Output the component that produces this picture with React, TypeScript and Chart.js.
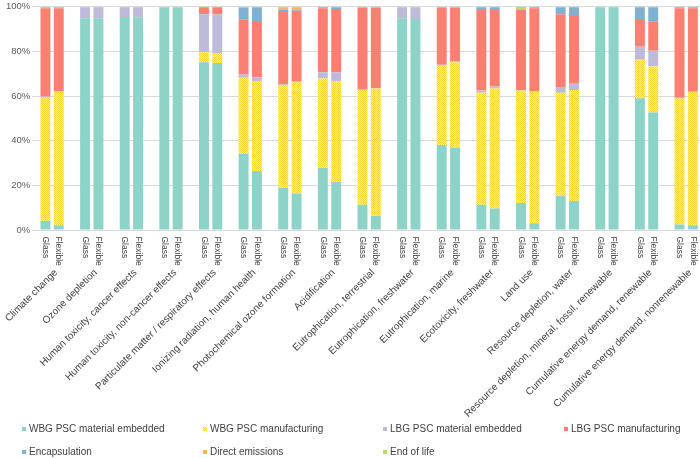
import { useEffect, useRef } from "react";
import { Chart, registerables } from "chart.js";

Chart.register(...registerables);

const categories = [
  "Climate change",
  "Ozone depletion",
  "Human toxicity, cancer effects",
  "Human toxicity, non-cancer effects",
  "Particulate matter / respiratory effects",
  "Ionizing radiation, human health",
  "Photochemical ozone formation",
  "Acidification",
  "Eutrophication, terrestrial",
  "Eutrophication, freshwater",
  "Eutrophication, marine",
  "Ecotoxicity, freshwater",
  "Land use",
  "Resource depletion, water",
  "Resource depletion, mineral, fossil, renewable",
  "Cumulative energy demand, renewable",
  "Cumulative energy demand, nonrenewable",
];

const variants = ["Glass", "Flexible"];

const seriesNames = [
  "WBG PSC material embedded",
  "WBG PSC manufacturing",
  "LBG PSC material embedded",
  "LBG PSC manufacturing",
  "Encapsulation",
  "Direct emissions",
  "End of life",
];

const yTicks = [0, 20, 40, 60, 80, 100];

// Glass values (%)
const wbgMaterialGlass = [4.1, 94.8, 95.4, 99.6, 75.1, 34.0, 18.8, 27.9, 11.3, 94.8, 38.1, 11.3, 12.1, 15.3, 99.8, 59.0, 2.5];
const wbgManufGlass = [55.5, 0, 0, 0, 4.5, 34.2, 46.1, 40.0, 51.4, 0, 35.5, 50.2, 50.4, 46.2, 0, 17.3, 56.5];
const lbgMaterialGlass = [0.2, 5.0, 4.4, 0.3, 17.0, 1.4, 0.3, 2.8, 0.2, 5.0, 0.4, 1.0, 0.2, 2.5, 0, 5.8, 0.2];
const lbgManufGlass = [39.5, 0, 0, 0, 3.2, 24.8, 32.9, 28.6, 36.7, 0, 25.6, 36.0, 36.0, 32.6, 0, 12.4, 40.1];
const encapsulationGlass = [0.4, 0.1, 0.1, 0, 0, 5.3, 0.4, 0.5, 0.2, 0, 0.2, 1.3, 0.2, 3.2, 0, 5.3, 0.5];
const directGlass = [0, 0, 0, 0, 0, 0, 1.3, 0, 0, 0, 0, 0, 0, 0, 0, 0, 0];
const endOfLifeGlass = [0.3, 0.1, 0.1, 0.1, 0.2, 0.3, 0.2, 0.2, 0.2, 0.2, 0.2, 0.2, 1.1, 0.2, 0.2, 0.2, 0.2];

// Flexible values (%)
const wbgMaterialFlexible = [2.1, 94.8, 95.3, 99.6, 74.8, 26.4, 16.3, 21.5, 6.4, 94.5, 37.0, 9.6, 3.0, 13.0, 99.8, 52.6, 2.1];
const wbgManufFlexible = [59.8, 0, 0, 0, 4.5, 40.3, 49.9, 45.2, 57.0, 0, 38.1, 53.8, 58.9, 49.7, 0, 20.6, 59.7];
const lbgMaterialFlexible = [0.2, 5.0, 4.5, 0.3, 17.3, 1.7, 0.4, 4.0, 0.2, 5.3, 0.4, 0.9, 0.2, 2.8, 0, 7.1, 0.2];
const lbgManufFlexible = [37.2, 0, 0, 0, 3.2, 25.2, 31.6, 28.3, 36.0, 0, 24.1, 34.2, 37.2, 30.8, 0, 13.0, 37.3];
const encapsulationFlexible = [0.4, 0.1, 0.1, 0, 0, 6.2, 0.4, 0.8, 0.2, 0, 0.2, 1.3, 0.5, 3.5, 0, 6.5, 0.5];
const directFlexible = [0, 0, 0, 0, 0, 0, 1.2, 0, 0, 0, 0, 0, 0, 0, 0, 0, 0];
const endOfLifeFlexible = [0.3, 0.1, 0.1, 0.1, 0.2, 0.2, 0.2, 0.2, 0.2, 0.2, 0.2, 0.2, 0.2, 0.2, 0.2, 0.2, 0.2];

const glassSeries = [wbgMaterialGlass, wbgManufGlass, lbgMaterialGlass, lbgManufGlass, encapsulationGlass, directGlass, endOfLifeGlass];
const flexibleSeries = [wbgMaterialFlexible, wbgManufFlexible, lbgMaterialFlexible, lbgManufFlexible, encapsulationFlexible, directFlexible, endOfLifeFlexible];

const seriesColors = ["#8DD3C7", "PATTERN", "#BEBADA", "#FB8072", "#80B1D3", "#FDB462", "#B3DE69"];

function makeYellowPattern(ctx: CanvasRenderingContext2D): CanvasPattern | string {
  const c = document.createElement("canvas");
  c.width = 4;
  c.height = 4;
  const p = c.getContext("2d");
  if (!p) return "#FFE066";
  p.fillStyle = "#FFF1A3";
  p.fillRect(0, 0, 4, 4);
  p.fillStyle = "#FFD22E";
  for (let y = 0; y < 4; y++) {
    for (let x = 0; x < 4; x++) {
      if ((x + y) % 2 === 0) p.fillRect(x, y, 1, 1);
    }
  }
  return ctx.createPattern(c, "repeat") || "#FFE066";
}

export default function App() {
  const ref = useRef<HTMLCanvasElement>(null);

  useEffect(() => {
    document.body.style.margin = "0";
    document.body.style.overflow = "hidden";
    document.documentElement.style.overflow = "hidden";
    const canvas = ref.current;
    if (!canvas) return;
    const ctx = canvas.getContext("2d");
    if (!ctx) return;
    const pattern = makeYellowPattern(ctx);
    const fills = seriesColors.map((c) => (c === "PATTERN" ? pattern : c));

    const datasets: any[] = [];
    seriesNames.forEach((name, s) => {
      variants.forEach((v) => {
        datasets.push({
          label: name + " (" + v + ")",
          data: v === "Glass" ? glassSeries[s] : flexibleSeries[s],
          backgroundColor: fills[s],
          borderWidth: 0,
          stack: v,
          categoryPercentage: 0.673,
          barPercentage: 0.746,
        });
      });
    });

    const font = '"Liberation Sans", Arial, sans-serif';

    const labelPlugin = {
      id: "customLabels",
      afterDraw(chart: any) {
        const c = chart.ctx as CanvasRenderingContext2D;
        const area = chart.chartArea;
        const metaG = chart.getDatasetMeta(0);
        const metaF = chart.getDatasetMeta(1);
        c.save();
        c.fillStyle = "#404040";
        categories.forEach((cat, i) => {
          const gx = metaG.data[i].x;
          const fx = metaF.data[i].x;
          c.font = "8.5px " + font;
          [gx, fx].forEach((x, k) => {
            c.save();
            c.translate(x, area.bottom + 6.5);
            c.rotate(Math.PI / 2);
            c.textAlign = "left";
            c.textBaseline = "middle";
            c.fillText(variants[k], 0, 0);
            c.restore();
          });
          const cx = (gx + fx) / 2;
          c.font = "10px " + font;
          c.save();
          c.translate(cx + 4, area.bottom + 41);
          c.rotate(-Math.PI / 4);
          c.textAlign = "right";
          c.textBaseline = "middle";
          c.fillText(cat, 0, 0);
          c.restore();
        });
        // legend
        const colX = [29, 210, 390, 571];
        const rowY = [429, 452];
        c.font = "10px " + font;
        seriesNames.forEach((name, s) => {
          const col = s % 4;
          const row = Math.floor(s / 4);
          const x = colX[col];
          const y = rowY[row];
          c.fillStyle = fills[s] as any;
          c.fillRect(x - 7, y - 2, 4, 4);
          c.fillStyle = "#404040";
          c.textAlign = "left";
          c.textBaseline = "middle";
          c.fillText(name, x, y);
        });
        c.restore();
      },
    };

    const chart = new Chart(canvas, {
      type: "bar",
      data: { labels: categories, datasets },
      options: {
        responsive: false,
        animation: false,
        devicePixelRatio: 1,
        layout: { padding: { left: 4, right: 0, top: 0, bottom: 228 } },
        plugins: { legend: { display: false }, tooltip: { enabled: false } },
        scales: {
          x: { stacked: true, display: false },
          y: {
            stacked: true,
            min: 0,
            max: 100,
            afterBuildTicks: (axis: any) => {
              axis.ticks = yTicks.map((v) => ({ value: v }));
            },
            ticks: {
              callback: (v: any) => v + "%",
              color: "#595959",
              font: { size: 9.5, family: font, lineHeight: 1 },
              padding: 2,
            },
            grid: { color: "#D9D9D9", drawTicks: false },
            border: { display: false },
          },
        },
      },
      plugins: [labelPlugin],
    });
    return () => chart.destroy();
  }, []);

  return (
    <div style={{ width: 706, height: 458 }}>
      <canvas ref={ref} width={706} height={458} style={{ display: "block" }} />
    </div>
  );
}
